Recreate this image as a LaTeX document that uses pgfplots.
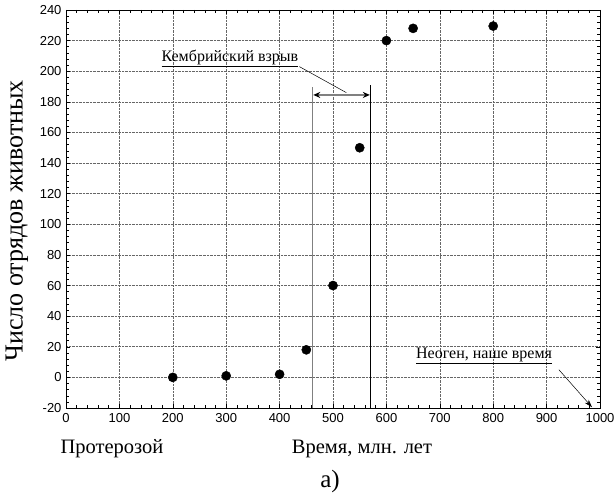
\documentclass[border=0pt]{standalone}
\usepackage{fontspec}
\setmainfont{Liberation Serif}
\newfontfamily\arialf{Liberation Sans}
\usepackage{pgfplots}
\pgfplotsset{compat=1.18}
\usetikzlibrary{arrows.meta}
\begin{document}
\begin{tikzpicture}[x=1bp,y=1bp]
\useasboundingbox (0,0) rectangle (614,495);
\begin{axis}[
  at={(66bp,87bp)}, anchor=south west,
  scale only axis, width=534bp, height=398bp,
  xmin=0, xmax=1000, ymin=-20, ymax=240,
  xtick={0,100,...,1000}, ytick={-20,0,...,240},
  minor x tick num=4, minor y tick num=4,
  tick align=inside,
  major tick length=4bp, minor tick length=3bp,
  grid=major,
  major grid style={densely dotted, gray!80!black, line width=0.6pt},
  axis line style={line width=0.8pt},
  tick style={black, line width=0.5pt},
  ticklabel style={font=\arialf\fontsize{13bp}{15bp}\selectfont},
  /pgf/number format/assume math mode=true,
  /pgf/number format/1000 sep={},
  xticklabel style={yshift=-2bp},
  yticklabel style={xshift=-1bp},
  clip=false,
]
\addplot[only marks, mark=*, mark size=4.6bp, black] coordinates {
  (200,0) (300,1) (400,2) (450,18) (500,60) (550,150) (600,220) (650,228) (800,229.5)
};
\addplot[gray, line width=1pt] coordinates {(462,-20) (462,190)};
\addplot[black, line width=0.8pt] coordinates {(570,-20) (570,191)};
\draw[gray, line width=1.2pt, {Stealth[black, length=7bp, width=6bp]}-{Stealth[black, length=7bp, width=6bp]}] (axis cs:463,184.5) -- (axis cs:569,184.5);
\draw[black, line width=0.5pt] (axis cs:437,203) -- (axis cs:525,186);
\node[font=\fontsize{16bp}{18bp}\selectfont, anchor=south, inner sep=0pt] at (axis cs:307,202.5) {\underline{Кембрийский взрыв}};
\node[font=\fontsize{16bp}{18bp}\selectfont, anchor=south, inner sep=0pt] at (axis cs:783,8.5) {\underline{Неоген, наше время}};
\draw[black, line width=0.5pt, -{Stealth[length=8bp, width=5bp]}] (axis cs:923,5) -- (axis cs:985,-19.5);
\end{axis}
\node[font=\fontsize{26bp}{30bp}\selectfont, rotate=90] at (17,274) {Число отрядов животных};
\node[font=\fontsize{20.5bp}{24bp}\selectfont] at (362,46) {Время, млн. лет};
\node[font=\fontsize{20.5bp}{24bp}\selectfont] at (112,46) {Протерозой};
\node[font=\fontsize{25bp}{28bp}\selectfont] at (330,14) {а)};
\end{tikzpicture}
\end{document}
